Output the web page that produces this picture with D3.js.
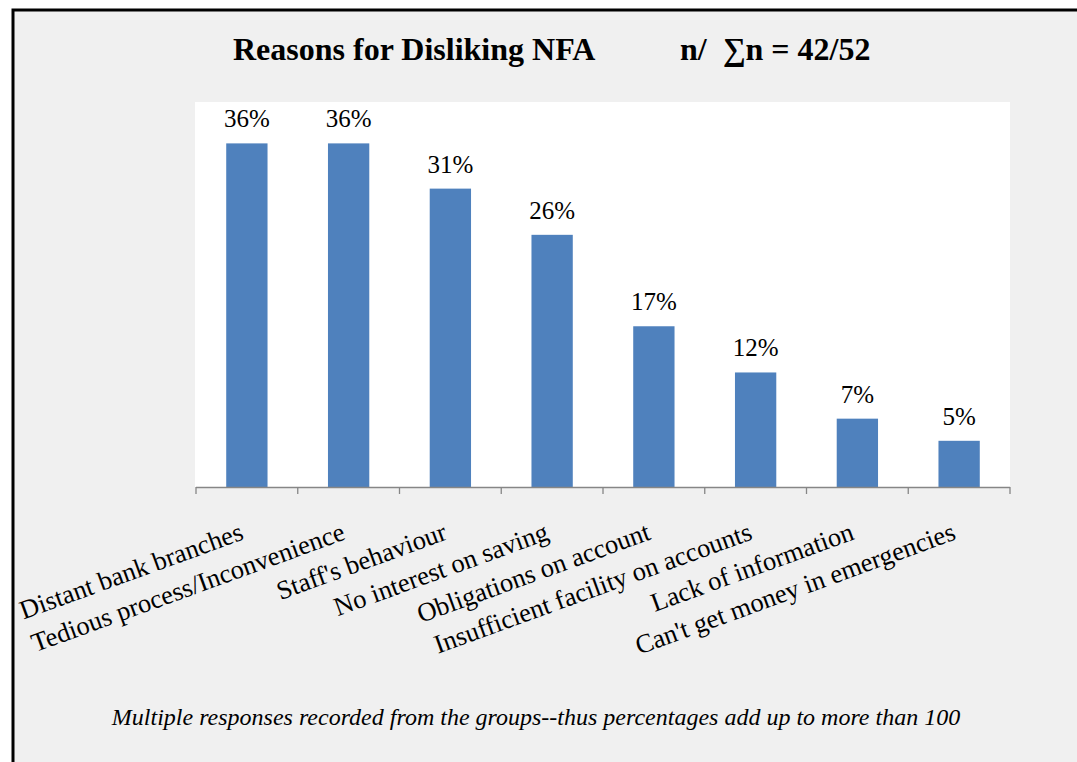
<!DOCTYPE html>
<html>
<head>
<meta charset="utf-8">
<script src="https://cdn.jsdelivr.net/npm/d3@7/dist/d3.min.js"></script>
<style>
  html, body { margin: 0; padding: 0; background: #ffffff; }
  svg { display: block; }
</style>
</head>
<body>
<svg id="chart" width="1077" height="762"></svg>
<script>
// ---- data ----
const categories = [
  "Distant bank branches",
  "Tedious process/Inconvenience",
  "Staff's behaviour",
  "No interest on saving",
  "Obligations on account",
  "Insufficient facility on accounts",
  "Lack of information",
  "Can't get money in emergencies"
];
const values = [35.7, 35.7, 31.0, 26.2, 16.7, 11.9, 7.1, 4.8];
const yDomain = [0, 40];
const titleText = "Reasons for Disliking NFA";
const sampleText = "n/  \u2211n = 42/52";
const footnoteText = "Multiple responses recorded from the groups--thus percentages add up to more than 100";

// ---- layout ----
const W = 1077, H = 762;
const plot = { left: 196, right: 1010, top: 102, bottom: 487 };
const serif = "'Liberation Serif', 'Times New Roman', Times, serif";

const svg = d3.select("#chart");

// outer frame
svg.append("rect")
  .attr("x", 13).attr("y", 10)
  .attr("width", W + 20).attr("height", H + 20)
  .attr("fill", "#f0f0f0")
  .attr("stroke", "#000").attr("stroke-width", 3);

// plot area
svg.append("rect")
  .attr("x", plot.left - 1).attr("y", plot.top)
  .attr("width", plot.right - plot.left + 1)
  .attr("height", plot.bottom - plot.top)
  .attr("fill", "#ffffff");

const x = d3.scaleBand()
  .domain(categories)
  .range([plot.left, plot.right])
  .paddingInner(0.594)
  .paddingOuter(0.297);

const y = d3.scaleLinear().domain(yDomain).range([plot.bottom, plot.top]);

// bars
svg.append("g").selectAll("rect")
  .data(categories)
  .join("rect")
  .attr("x", d => x(d))
  .attr("width", x.bandwidth())
  .attr("y", (d, i) => y(values[i]))
  .attr("height", (d, i) => y(0) - y(values[i]))
  .attr("fill", "#4f81bd");

// value labels
svg.append("g").selectAll("text")
  .data(categories)
  .join("text")
  .attr("x", d => x(d) + x.bandwidth() / 2)
  .attr("y", (d, i) => y(values[i]) - 16)
  .attr("text-anchor", "middle")
  .attr("font-family", serif)
  .attr("font-size", 25)
  .attr("fill", "#000")
  .text((d, i) => Math.round(values[i]) + "%");

// x axis (line + ticks at band boundaries)
const axisG = svg.append("g");
axisG.append("line")
  .attr("x1", plot.left).attr("x2", plot.right)
  .attr("y1", plot.bottom + 0.5).attr("y2", plot.bottom + 0.5)
  .attr("stroke", "#868686").attr("stroke-width", 1.3);
const step = x.step();
const tickPos = d3.range(categories.length + 1).map(i => plot.left + i * step);
axisG.selectAll("line.tick")
  .data(tickPos)
  .join("line")
  .attr("class", "tick")
  .attr("x1", d => d).attr("x2", d => d)
  .attr("y1", plot.bottom).attr("y2", plot.bottom + 7)
  .attr("stroke", "#868686").attr("stroke-width", 1.3);

// category labels (rotated)
axisG.selectAll("text")
  .data(categories)
  .join("text")
  .attr("transform", d => `translate(${x(d) + x.bandwidth() / 2 - 2}, 539) rotate(-20)`)
  .attr("text-anchor", "end")
  .attr("font-family", serif)
  .attr("font-size", 26.5)
  .attr("fill", "#000")
  .text(d => d);

// title
svg.append("text")
  .attr("x", 233).attr("y", 60)
  .attr("font-family", serif)
  .attr("font-weight", "bold")
  .attr("font-size", 32)
  .attr("fill", "#000")
  .text(titleText);
svg.append("text")
  .attr("x", 680).attr("y", 60)
  .attr("font-family", serif)
  .attr("font-weight", "bold")
  .attr("font-size", 32)
  .attr("fill", "#000")
  .attr("xml:space", "preserve")
  .style("white-space", "pre")
  .text(sampleText);

// footnote
svg.append("text")
  .attr("x", 536).attr("y", 725)
  .attr("text-anchor", "middle")
  .attr("font-family", serif)
  .attr("font-style", "italic")
  .attr("font-size", 24)
  .attr("fill", "#000")
  .text(footnoteText);
</script>
</body>
</html>
